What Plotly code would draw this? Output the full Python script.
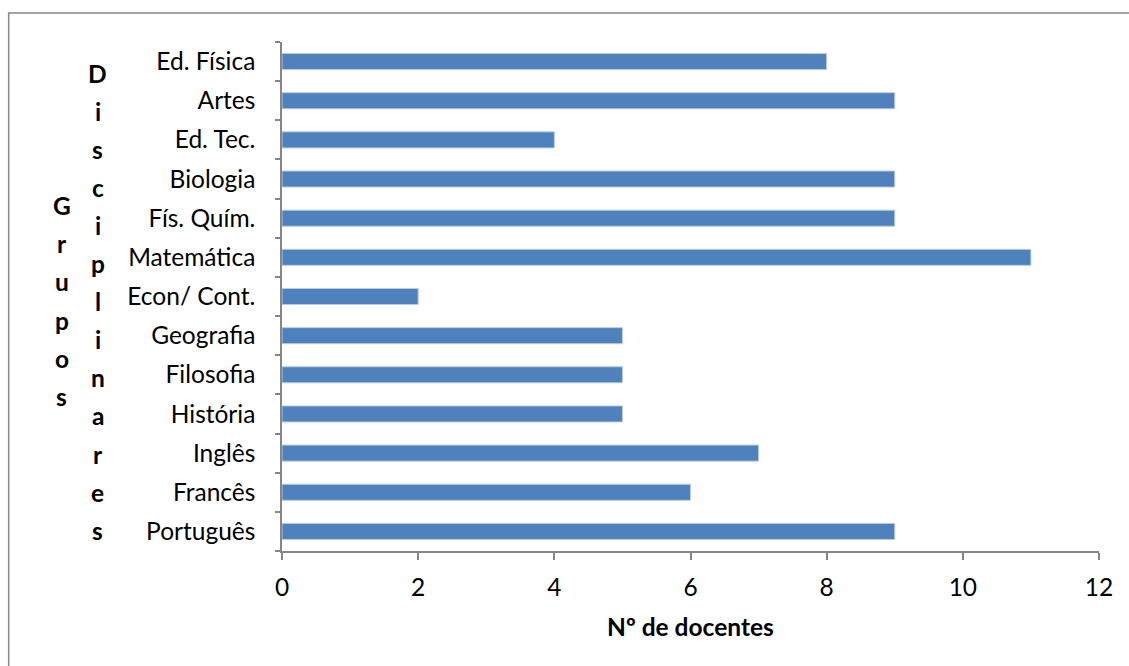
import plotly.graph_objects as go

categories = ["Português", "Francês", "Inglês", "História", "Filosofia", "Geografia",
              "Econ/ Cont.", "Matemática", "Fís. Quím.", "Biologia", "Ed. Tec.", "Artes", "Ed. Física"]
values = [9, 6, 7, 5, 5, 5, 2, 11, 9, 9, 4, 9, 8]
x_ticks = [0, 2, 4, 6, 8, 10, 12]
x_title = "Nº de docentes"
y_title_1 = "Grupos"
y_title_2 = "Disciplinares"

W, H = 1129, 666
L, R, T, B = 281.5, 30, 42, 115
pw, ph = W - L - R, H - T - B

def px(x):
    return (x - L) / pw

def py(y):
    return (H - B - y) / ph

FONT = "Lato"
FS = 24.5

fig = go.Figure(go.Bar(
    y=categories, x=values, orientation="h",
    marker=dict(color="#4F81BD", line=dict(color="#B9CDE5", width=1)),
))

annotations = []
for i, ch in enumerate(y_title_2):
    annotations.append(dict(text=ch, x=px(97), y=py(73 + i * 38.1), xref="paper", yref="paper",
                            showarrow=False, xanchor="center", yanchor="middle",
                            font=dict(family=FONT, size=FS, color="black", weight="bold")))
for i, ch in enumerate(y_title_1):
    annotations.append(dict(text=ch, x=px(61), y=py(205 + i * 38.4), xref="paper", yref="paper",
                            showarrow=False, xanchor="center", yanchor="middle",
                            font=dict(family=FONT, size=FS, color="black", weight="bold")))
annotations.append(dict(text=x_title, x=px(690), y=py(626), xref="paper", yref="paper",
                        showarrow=False, xanchor="center", yanchor="middle",
                        font=dict(family=FONT, size=FS, color="black", weight="bold")))

fig.update_layout(
    width=W, height=H,
    margin=dict(l=L, r=R, t=T, b=B, autoexpand=False),
    paper_bgcolor="white", plot_bgcolor="white",
    bargap=0.59,
    showlegend=False,
    font=dict(family=FONT, size=FS, color="black"),
    annotations=annotations,
    shapes=[dict(type="rect", xref="paper", yref="paper",
                 x0=px(8), y0=py(700), x1=px(1140), y1=py(13),
                 line=dict(color="#868686", width=1.5), fillcolor="rgba(0,0,0,0)", layer="below")],
    xaxis=dict(range=[0, 12], tickvals=x_ticks, showgrid=False, zeroline=False,
               showline=True, linecolor="#868686", linewidth=1.5,
               ticks="outside", ticklen=7, tickcolor="#868686", tickwidth=1.5,
               ticklabelstandoff=7, tickfont=dict(family=FONT, size=FS)),
    yaxis=dict(categoryorder="array", categoryarray=categories, showgrid=False,
               showline=True, linecolor="#868686", linewidth=1.5,
               ticks="outside", ticklen=5, tickcolor="#868686", tickwidth=1.5,
               tickson="boundaries", ticklabelstandoff=20,
               tickfont=dict(family=FONT, size=FS)),
)

fig.write_html("out.html")
